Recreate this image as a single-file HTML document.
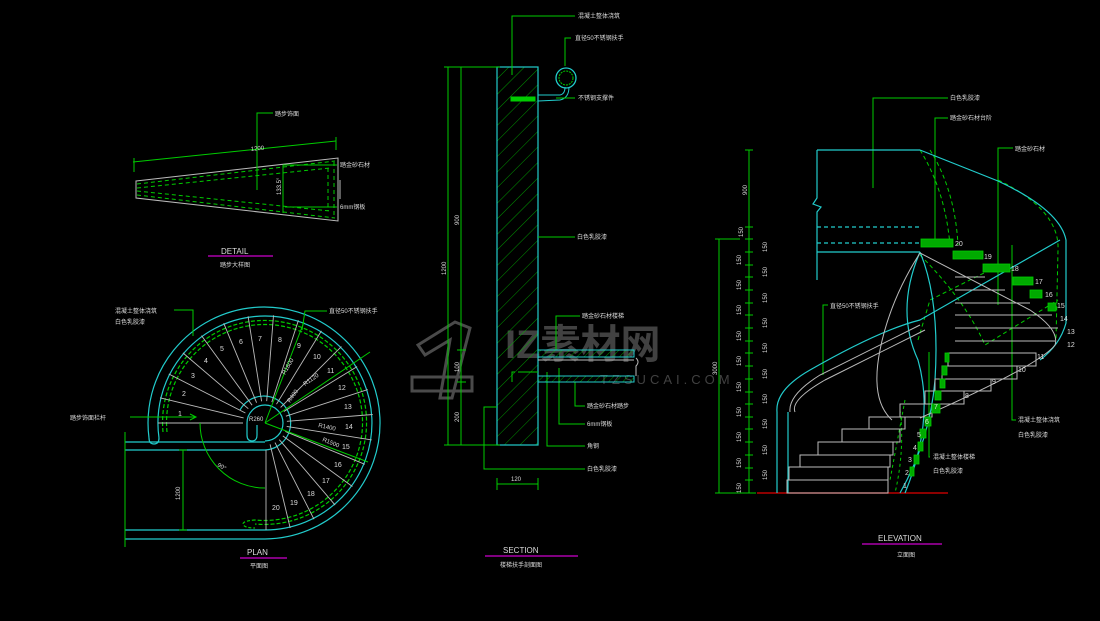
<!DOCTYPE html>
<html><head><meta charset="utf-8"><style>
html,body{margin:0;padding:0;background:#000;}
svg{display:block;}
text{font-family:"Liberation Sans","Noto Sans CJK SC",sans-serif;fill:#ddd;}
.t{font-size:6px;}
.n{font-size:7px;}
</style></head><body>
<svg width="1100" height="621" viewBox="0 0 1100 621" xmlns="http://www.w3.org/2000/svg">
<rect width="1100" height="621" fill="#000"/>
<defs>
<pattern id="h" width="11" height="11" patternUnits="userSpaceOnUse" patternTransform="rotate(45)">
<line x1="0" y1="0" x2="0" y2="11" stroke="#0b0" stroke-width="0.8"/></pattern>
<pattern id="hs" width="5" height="5" patternUnits="userSpaceOnUse" patternTransform="rotate(45)">
<line x1="0" y1="0" x2="0" y2="5" stroke="#0c0" stroke-width="0.7"/></pattern>
</defs>

<!-- WATERMARK -->
<g opacity="0.55">
<path d="M418 345 L455 322 L470 328 L452 398 L440 398 L450 340 L425 355 Z" fill="none" stroke="#888" stroke-width="3"/>
<rect x="412" y="377" width="60" height="14" fill="none" stroke="#888" stroke-width="3"/>
<text x="505" y="358" style="font-size:40px;fill:#777;font-weight:bold">IZ素材网</text>
<text x="600" y="384" style="font-size:13px;fill:#777;letter-spacing:4px">TZSUCAI.COM</text>
</g>

<!-- DETAIL -->
<g fill="none">
<polygon points="136,181 338,158 338,221 136,198" stroke="#bbb" stroke-width="1"/>
<line x1="340" y1="180" x2="340" y2="199" stroke="#bbb"/>
<g stroke="#0c0" stroke-dasharray="4,3" stroke-width="1">
<line x1="137" y1="184" x2="335" y2="161"/>
<line x1="137" y1="195" x2="335" y2="218"/>
<line x1="137" y1="188" x2="330" y2="168"/>
<line x1="137" y1="191" x2="330" y2="211"/>
<line x1="328" y1="168" x2="328" y2="211"/>
<line x1="334" y1="162" x2="334" y2="217"/>
</g>
<line x1="283" y1="165" x2="283" y2="213" stroke="#0c0"/>
<line x1="133" y1="162" x2="336" y2="141" stroke="#0c0"/>
<line x1="134" y1="158" x2="134" y2="172" stroke="#0c0"/>
<line x1="336" y1="137" x2="336" y2="150" stroke="#0c0"/>
<polyline points="273,113 257,113 257,190" stroke="#0c0"/>
<line x1="283" y1="165" x2="337" y2="165" stroke="#0c0"/>
<line x1="285" y1="207" x2="337" y2="207" stroke="#0c0"/>
<line x1="208" y1="256" x2="273" y2="256" stroke="#c0c" stroke-width="1.2"/>
</g>
<text class="t" x="251" y="151" transform="rotate(-6 251 151)">1200</text>
<text class="t" x="281" y="195" transform="rotate(-90 281 195)">133.5°</text>
<text class="t" x="275" y="116">踏步饰面</text>
<text class="t" x="340" y="167">踏金砂石材</text>
<text class="t" x="340" y="209">6mm钢板</text>
<text x="221" y="254" style="font-size:8px">DETAIL</text>
<text class="t" x="220" y="267">踏步大样图</text>

<!-- PLAN -->
<g fill="none" stroke-width="1.2">
<path d="M149,438 A116,116 0 1 1 265,539" stroke="#2cc"/>
<path d="M159,438 A107,107 0 1 1 265,530" stroke="#2cc"/>
<path d="M149,438 Q149,444 154,444 Q159,444 159,438" stroke="#2cc"/>
<path d="M163,432 A102,102 0 1 1 255,524" stroke="#0c0" stroke-dasharray="4,2"/>
<path d="M167,432 A98,98 0 1 1 255,520" stroke="#0c0" stroke-dasharray="4,2"/>
<path d="M255,520 Q243,521 243,524 Q244,528 255,528" stroke="#0c0" stroke-dasharray="3,2"/>
<path d="M240,410 A27,27 0 1 1 265,450" stroke="#2cc"/>
<path d="M247,423 A18,18 0 1 1 265,441" stroke="#2cc"/>
<path d="M247,423 L247,435 Q247,441 252,441 Q257,441 257,435 L257,425" stroke="#2cc"/>
<line x1="125" y1="442" x2="265" y2="442" stroke="#2cc"/>
<line x1="125" y1="450" x2="265" y2="450" stroke="#2cc"/>
<line x1="125" y1="530" x2="265" y2="530" stroke="#2cc"/>
<line x1="125" y1="539" x2="265" y2="539" stroke="#2cc"/>
</g>
<g stroke="#bbb" stroke-width="0.9">
<line x1="243" y1="423" x2="158" y2="423"/>
<line x1="243.6" y1="417.9" x2="160" y2="397.8"/>
<line x1="245.4" y1="413" x2="168.8" y2="374"/>
<line x1="248.3" y1="408.7" x2="182.9" y2="352.9"/>
<line x1="252.1" y1="405.2" x2="201.5" y2="335.6"/>
<line x1="256.6" y1="402.7" x2="223.7" y2="323.2"/>
<line x1="261.6" y1="401.3" x2="248.1" y2="316.3"/>
<line x1="266.7" y1="401.1" x2="273.5" y2="315.3"/>
<line x1="271.8" y1="402.1" x2="298.4" y2="320.3"/>
<line x1="276.5" y1="404.2" x2="321.4" y2="330.9"/>
<line x1="280.6" y1="407.4" x2="341.4" y2="346.6"/>
<line x1="283.8" y1="411.5" x2="357.1" y2="366.6"/>
<line x1="285.9" y1="416.2" x2="367.7" y2="389.6"/>
<line x1="286.9" y1="421.3" x2="372.7" y2="414.5"/>
<line x1="286.7" y1="426.4" x2="371.7" y2="439.9"/>
<line x1="285.3" y1="431.4" x2="364.8" y2="464.3"/>
<line x1="282.8" y1="435.9" x2="352.4" y2="486.5"/>
<line x1="279.3" y1="439.7" x2="335.1" y2="505.1"/>
<line x1="275" y1="442.6" x2="314" y2="519.2"/>
<line x1="270.1" y1="444.4" x2="290.2" y2="528"/>
<line x1="266" y1="450" x2="266" y2="530"/>
</g>
<g fill="none" stroke="#0c0" stroke-width="1">
<line x1="265" y1="423" x2="370" y2="352"/>
<line x1="265" y1="423" x2="304" y2="322"/>
<line x1="265" y1="423" x2="368" y2="462"/>
<line x1="125" y1="432" x2="125" y2="547"/>
<line x1="183" y1="450" x2="183" y2="530"/>
<line x1="179" y1="450" x2="187" y2="450"/><line x1="179" y1="530" x2="187" y2="530"/>
<path d="M200,423 A65,65 0 0 0 265,488"/>
<line x1="130" y1="417" x2="195" y2="417"/>
<path d="M190,414 L196,417 L190,420"/>
<polyline points="174,310 193,310 193,336"/>
<polyline points="327,311 305,311 302,330"/>
</g>
<g class="n">
<text x="178" y="416">1</text><text x="182" y="396">2</text><text x="191" y="378">3</text><text x="204" y="363">4</text>
<text x="220" y="351">5</text><text x="239" y="344">6</text><text x="258" y="341">7</text><text x="278" y="342">8</text>
<text x="297" y="348">9</text><text x="313" y="359">10</text><text x="327" y="373">11</text><text x="338" y="390">12</text>
<text x="344" y="409">13</text><text x="345" y="429">14</text><text x="342" y="449">15</text><text x="334" y="467">16</text>
<text x="322" y="483">17</text><text x="307" y="496">18</text><text x="290" y="505">19</text><text x="272" y="510">20</text>
</g>
<text class="t" x="249" y="421">R260</text>
<text class="t" x="290" y="403" transform="rotate(-55 290 403)">R400</text>
<text class="t" x="285" y="375" transform="rotate(-60 285 375)">R1600</text>
<text class="t" x="305" y="386" transform="rotate(-35 305 386)">R1120</text>
<text class="t" x="318" y="427" transform="rotate(12 318 427)">R1400</text>
<text class="t" x="322" y="441" transform="rotate(22 322 441)">R1500</text>
<text class="t" x="217" y="466" transform="rotate(30 217 466)">90°</text>
<text class="t" x="180" y="500" transform="rotate(-90 180 500)">1200</text>
<text class="t" x="70" y="420">踏步饰面栏杆</text>
<text class="t" x="115" y="313">混凝土整体浇筑</text>
<text class="t" x="115" y="324">白色乳胶漆</text>
<text class="t" x="329" y="313">直径50不锈钢扶手</text>
<text x="247" y="555" style="font-size:8px">PLAN</text>
<line x1="240" y1="558" x2="287" y2="558" stroke="#c0c" stroke-width="1.2"/>
<text class="t" x="250" y="568">平面图</text>

<!-- SECTION -->
<rect x="497" y="67" width="41" height="378" fill="url(#h)" stroke="#2cc" stroke-width="1.2"/>
<g fill="none" stroke="#0c0" stroke-width="1">
<line x1="448" y1="67" x2="448" y2="445"/>
<line x1="461" y1="67" x2="461" y2="445"/>
<line x1="444" y1="67" x2="500" y2="67"/>
<line x1="444" y1="445" x2="500" y2="445"/>
<line x1="457" y1="350" x2="466" y2="350"/>
<line x1="457" y1="382" x2="466" y2="382"/>
<circle cx="566" cy="78" r="10" stroke="#2cc" stroke-width="1.3"/>
<circle cx="566" cy="78" r="7" stroke-dasharray="2,1"/>
<path d="M538,95 L560,95 Q565,94 565,87" stroke="#2cc"/>
<path d="M538,101 L560,100 Q569,98 569,87" stroke="#2cc"/>
<rect x="511" y="97" width="24" height="4" fill="#0c0"/>
<polyline points="575,16 512,16 512,75"/>
<polyline points="571,38 565,38 565,66"/>
<line x1="556" y1="98" x2="575" y2="98"/>
<line x1="538" y1="237" x2="575" y2="237"/>
<polyline points="580,316 556,316 556,350"/>
<polyline points="585,406 575,406 575,382"/>
<polyline points="585,424 559,424 559,368"/>
<polyline points="585,446 547,446 547,372"/>
<polyline points="585,469 484,469 484,407 497,407"/>
<polyline points="515,372 512,372 512,382"/>
<line x1="518" y1="372" x2="538" y2="372"/>
<line x1="497" y1="484" x2="538" y2="484"/>
<line x1="497" y1="478" x2="497" y2="490"/><line x1="538" y1="478" x2="538" y2="490"/>
</g>
<rect x="538" y="350" width="96" height="7" fill="url(#hs)" stroke="#2cc"/>
<rect x="538" y="376" width="96" height="6" fill="url(#hs)" stroke="#2cc"/>
<line x1="538" y1="360" x2="634" y2="360" stroke="#bbb"/>
<path d="M636,358 Q640,362 636,366 L636,376" fill="none" stroke="#bbb"/>
<text class="t" x="446" y="275" transform="rotate(-90 446 275)">1200</text>
<text class="t" x="459" y="225" transform="rotate(-90 459 225)">900</text>
<text class="t" x="459" y="372" transform="rotate(-90 459 372)">100</text>
<text class="t" x="459" y="422" transform="rotate(-90 459 422)">200</text>
<text class="t" x="511" y="481">120</text>
<text class="t" x="578" y="18">混凝土整体浇筑</text>
<text class="t" x="575" y="40">直径50不锈钢扶手</text>
<text class="t" x="578" y="100">不锈钢支撑件</text>
<text class="t" x="577" y="239">白色乳胶漆</text>
<text class="t" x="582" y="318">踏金砂石材楼梯</text>
<text class="t" x="587" y="408">踏金砂石材踏步</text>
<text class="t" x="587" y="426">6mm钢板</text>
<text class="t" x="587" y="448">角钢</text>
<text class="t" x="587" y="471">白色乳胶漆</text>
<text x="503" y="553" style="font-size:8px">SECTION</text>
<line x1="485" y1="556" x2="578" y2="556" stroke="#c0c" stroke-width="1.2"/>
<text class="t" x="500" y="567">楼梯扶手剖面图</text>

<!-- ELEVATION -->
<g fill="none" stroke="#0c0" stroke-width="1">
<line x1="749" y1="150" x2="749" y2="493"/>
<line x1="719" y1="239" x2="719" y2="493"/>
<g>
<line x1="745" y1="150" x2="753" y2="150"/><line x1="745" y1="227" x2="753" y2="227"/>
<line x1="745" y1="239" x2="753" y2="239"/><line x1="745" y1="252" x2="753" y2="252"/>
<line x1="745" y1="265" x2="753" y2="265"/><line x1="745" y1="277" x2="753" y2="277"/>
<line x1="745" y1="290" x2="753" y2="290"/><line x1="745" y1="303" x2="753" y2="303"/>
<line x1="745" y1="315" x2="753" y2="315"/><line x1="745" y1="328" x2="753" y2="328"/>
<line x1="745" y1="341" x2="753" y2="341"/><line x1="745" y1="353" x2="753" y2="353"/>
<line x1="745" y1="366" x2="753" y2="366"/><line x1="745" y1="379" x2="753" y2="379"/>
<line x1="745" y1="392" x2="753" y2="392"/><line x1="745" y1="404" x2="753" y2="404"/>
<line x1="745" y1="417" x2="753" y2="417"/><line x1="745" y1="429" x2="753" y2="429"/>
<line x1="745" y1="442" x2="753" y2="442"/><line x1="745" y1="455" x2="753" y2="455"/>
<line x1="745" y1="468" x2="753" y2="468"/><line x1="745" y1="480" x2="753" y2="480"/>
<line x1="740" y1="493" x2="756" y2="493"/>
<line x1="715" y1="239" x2="740" y2="239"/><line x1="715" y1="493" x2="740" y2="493"/>
</g>
<polyline points="948,98 873,98 873,188"/>
<polyline points="948,118 935,118 935,240"/>
<polyline points="1013,148 998,148 998,305"/>
<polyline points="1016,420 1012,420 1012,245"/>
<polyline points="828,305 823,305 823,375"/>
<polyline points="930,457 929,457 929,352"/>
<path d="M918,340 L930,300 L1000,265" stroke-dasharray="4,3"/>
<path d="M920,150 Q945,190 950,245 M930,150 Q955,190 958,245" stroke-dasharray="4,3"/>
<path d="M998,180 Q1060,210 1058,250 L1056,340" stroke-dasharray="4,3"/>
<path d="M920,255 Q965,300 985,345 L1058,300" stroke-dasharray="4,3"/>
<path d="M900,410 Q905,450 895,493 M905,400 L890,480" stroke-dasharray="3,3"/>
</g>
<line x1="757" y1="493" x2="948" y2="493" stroke="#b00" stroke-width="1.5"/>
<g fill="none" stroke="#2cc" stroke-width="1.2">
<polyline points="817,150 920,150"/>
<path d="M817,150 L817,198 L813,204 L821,207 L817,212 L817,280"/>
<line x1="817" y1="227" x2="921" y2="227" stroke-dasharray="4,3"/>
<line x1="817" y1="243" x2="921" y2="243" stroke-dasharray="4,3"/>
<line x1="817" y1="252" x2="920" y2="252"/>
<path d="M920,150 L998,181 Q1060,210 1066,240 L1066,323 Q1060,345 1040,360"/>
<path d="M920,252 Q895,310 918,360 Q935,420 905,493"/>
<path d="M777,493 L777,412 Q775,390 810,370 Q880,330 920,320 L1060,240"/>
<path d="M788,493 L788,412"/>
<path d="M920,252 Q940,300 935,380 Q930,440 900,493"/>
</g>
<g fill="none" stroke="#bbb" stroke-width="1">
<path d="M920,253 L1030,310 Q1060,330 1055,345 Q1040,365 920,418"/>
<path d="M790,412 Q788,395 820,375 Q880,345 920,325"/>
<path d="M795,412 Q790,400 825,380 Q885,350 925,330"/>
<path d="M920,253 Q890,300 880,350 Q870,400 892,420"/>
<rect x="787" y="480" width="101" height="13"/>
<rect x="789" y="467" width="99" height="13"/>
<rect x="800" y="455" width="90" height="12"/>
<rect x="818" y="442" width="75" height="13"/>
<rect x="842" y="429" width="58" height="13"/>
<rect x="869" y="417" width="36" height="12"/>
<rect x="900" y="404" width="32" height="13"/>
<rect x="925" y="391" width="39" height="13"/>
<rect x="935" y="379" width="56" height="12"/>
<rect x="942" y="366" width="75" height="13"/>
<rect x="948" y="353" width="88" height="13"/>
<line x1="955" y1="341" x2="1055" y2="341"/>
<line x1="955" y1="328" x2="1058" y2="328"/>
<line x1="955" y1="315" x2="1052" y2="315"/>
<line x1="955" y1="303" x2="1030" y2="303"/>
<line x1="955" y1="290" x2="1005" y2="290"/>
<line x1="955" y1="277" x2="985" y2="277"/>
</g>
<g fill="#0a0" stroke="#0c0" stroke-width="0.8">
<rect x="921" y="239" width="32" height="8"/>
<rect x="953" y="251" width="30" height="8"/>
<rect x="983" y="264" width="27" height="8"/>
<rect x="1013" y="277" width="20" height="8"/>
<rect x="1030" y="290" width="12" height="8"/>
<rect x="1048" y="303" width="8" height="8"/>
<rect x="932" y="404" width="8" height="9"/>
<rect x="925" y="417" width="6" height="9"/>
<rect x="920" y="429" width="6" height="9"/>
<rect x="918" y="442" width="5" height="9"/>
<rect x="914" y="455" width="5" height="9"/>
<rect x="910" y="467" width="4" height="9"/>
<rect x="945" y="353" width="4" height="9"/>
<rect x="942" y="366" width="5" height="9"/>
<rect x="940" y="379" width="5" height="9"/>
<rect x="935" y="391" width="6" height="9"/>
</g>
<g class="n">
<text x="955" y="246">20</text><text x="984" y="259">19</text><text x="1011" y="271">18</text><text x="1035" y="284">17</text>
<text x="1045" y="297">16</text><text x="1057" y="308">15</text><text x="1060" y="321">14</text><text x="1067" y="334">13</text>
<text x="1067" y="347">12</text><text x="1037" y="359">11</text><text x="1018" y="372">10</text><text x="992" y="384">9</text>
<text x="965" y="398">8</text><text x="934" y="409">7</text><text x="925" y="424">6</text><text x="917" y="437">5</text>
<text x="913" y="450">4</text><text x="908" y="462">3</text><text x="905" y="475">2</text><text x="903" y="488">1</text>
</g>
<g class="t">
<text x="747" y="195" transform="rotate(-90 747 195)">900</text>
<text x="743" y="237" transform="rotate(-90 743 237)">150</text>
<text x="717" y="375" transform="rotate(-90 717 375)">3000</text>
<text x="767" y="252" transform="rotate(-90 767 252)">150</text><text x="767" y="277" transform="rotate(-90 767 277)">150</text>
<text x="767" y="303" transform="rotate(-90 767 303)">150</text><text x="767" y="328" transform="rotate(-90 767 328)">150</text>
<text x="767" y="353" transform="rotate(-90 767 353)">150</text><text x="767" y="379" transform="rotate(-90 767 379)">150</text>
<text x="767" y="404" transform="rotate(-90 767 404)">150</text><text x="767" y="429" transform="rotate(-90 767 429)">150</text>
<text x="767" y="455" transform="rotate(-90 767 455)">150</text><text x="767" y="480" transform="rotate(-90 767 480)">150</text>
<text x="741" y="265" transform="rotate(-90 741 265)">150</text><text x="741" y="290" transform="rotate(-90 741 290)">150</text>
<text x="741" y="315" transform="rotate(-90 741 315)">150</text><text x="741" y="341" transform="rotate(-90 741 341)">150</text>
<text x="741" y="366" transform="rotate(-90 741 366)">150</text><text x="741" y="392" transform="rotate(-90 741 392)">150</text>
<text x="741" y="417" transform="rotate(-90 741 417)">150</text><text x="741" y="442" transform="rotate(-90 741 442)">150</text>
<text x="741" y="468" transform="rotate(-90 741 468)">150</text><text x="741" y="493" transform="rotate(-90 741 493)">150</text>
<text x="950" y="100">白色乳胶漆</text>
<text x="950" y="120">踏金砂石材台阶</text>
<text x="1015" y="151">踏金砂石材</text>
<text x="1018" y="422">混凝土整体浇筑</text>
<text x="1018" y="437">白色乳胶漆</text>
<text x="830" y="308">直径50不锈钢扶手</text>
<text x="933" y="459">混凝土整体楼梯</text>
<text x="933" y="473">白色乳胶漆</text>
<text x="897" y="557">立面图</text>
</g>
<text x="878" y="541" style="font-size:8px">ELEVATION</text>
<line x1="862" y1="544" x2="942" y2="544" stroke="#c0c" stroke-width="1.2"/>
</svg>
</body></html>
